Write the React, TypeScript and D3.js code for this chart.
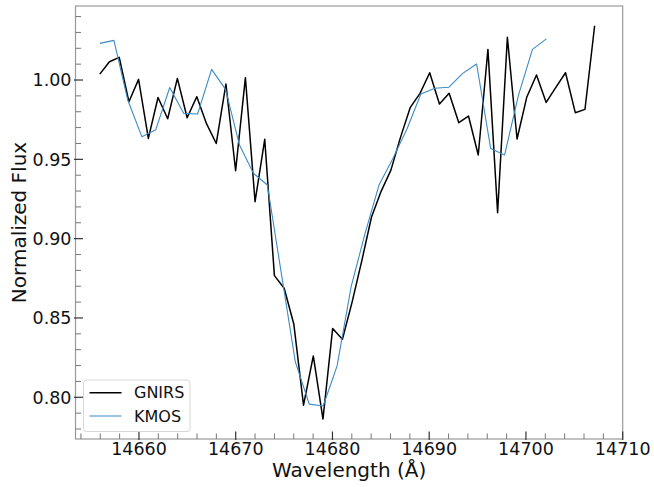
import React from "react";
import * as d3 from "d3";

// GNIRS spectrum (wavelength in Å, normalized flux)
const gnirsWave = [
  14655.95, 14656.95, 14657.96, 14658.96, 14659.96, 14660.97, 14661.97, 14662.97,
  14663.97, 14664.98, 14665.98, 14666.98, 14667.99, 14668.99, 14669.99, 14671.0,
  14672.0, 14673.0, 14674.0, 14675.01, 14676.01, 14677.01, 14678.02, 14679.02,
  14680.02, 14681.03, 14682.03, 14683.03, 14684.03, 14685.04, 14686.04, 14687.04,
  14688.05, 14689.05, 14690.05, 14691.06, 14692.06, 14693.06, 14694.06, 14695.07,
  14696.07, 14697.07, 14698.08, 14699.08, 14700.08, 14701.09, 14702.09, 14703.09,
  14704.09, 14705.1, 14706.1, 14707.1,
];
const gnirsFlux = [
  1.0037, 1.0115, 1.0143, 0.9863, 1.0004, 0.9632, 0.989, 0.9756,
  1.001, 0.9762, 0.9895, 0.9725, 0.96, 0.9975, 0.9428, 1.0015,
  0.9233, 0.9626, 0.8767, 0.8687, 0.846, 0.795, 0.8261, 0.7863,
  0.8434, 0.8366, 0.86, 0.886, 0.9135, 0.93, 0.9432, 0.964,
  0.9828, 0.9916, 1.0046, 0.9849, 0.9916, 0.9731, 0.9773, 0.9527,
  1.0193, 0.9163, 1.0269, 0.9628, 0.9891, 1.0032, 0.9859, 0.9954,
  1.0046, 0.9794, 0.9815, 1.0342,
];

// KMOS spectrum
const kmosWave = [
  14655.97, 14657.41, 14658.85, 14660.3, 14661.74, 14663.18, 14664.62, 14666.06,
  14667.51, 14668.95, 14670.39, 14671.83, 14673.27, 14674.72, 14676.16, 14677.6,
  14679.04, 14680.48, 14681.93, 14683.37, 14684.81, 14686.25, 14687.69, 14689.14,
  14690.58, 14692.02, 14693.46, 14694.9, 14696.35, 14697.79, 14699.23, 14700.67,
  14702.11,
];
const kmosFlux = [
  1.0231, 1.025, 0.9872, 0.9643, 0.9687, 0.9953, 0.979, 0.9786,
  1.0067, 0.9941, 0.959, 0.9412, 0.9338, 0.878, 0.8224, 0.7957,
  0.7945, 0.8198, 0.8697, 0.9033, 0.9338, 0.9506, 0.969, 0.9912,
  0.9948, 0.9954, 1.0042, 1.0101, 0.9569, 0.9527, 0.9905, 1.0193,
  1.0259,
];

const xMajorTicks = [14660, 14670, 14680, 14690, 14700, 14710];
const yMajorTicks = [0.8, 0.85, 0.9, 0.95, 1.0];

const seriesNames = ["GNIRS", "KMOS"];
const seriesColors = ["#000000", "#3b8bc4"];

const W = 654;
const H = 487;
const FONT = "DejaVu Sans, sans-serif";

export default function App() {
  const left = 75.5;
  const right = 622.7;
  const top = 6;
  const bottom = 439;

  const x = d3.scaleLinear().domain([14653.44, 14710]).range([left, right]);
  const y = d3
    .scaleLinear()
    .domain([0.80 - (bottom - 397.3) / 1586, 1.0 + (80 - top) / 1586])
    .range([bottom, top]);

  const xMinor = d3.range(14654, 14710.01, 2).filter((v) => !xMajorTicks.includes(v));
  const yMinor = d3
    .range(78, 105, 1)
    .map((v) => v / 100)
    .filter((v) => y(v) >= top && y(v) <= bottom)
    .filter((v) => !yMajorTicks.some((m) => Math.abs(m - v) < 1e-6));

  const line = d3
    .line<[number, number]>()
    .x((d) => x(d[0]))
    .y((d) => y(d[1]));

  const gnirs = gnirsWave.map((w, i) => [w, gnirsFlux[i]] as [number, number]);
  const kmos = kmosWave.map((w, i) => [w, kmosFlux[i]] as [number, number]);

  return (
    <svg
      width={W}
      height={H}
      style={{ position: "absolute", left: 0, top: 0, background: "#fff" }}
      fontFamily={FONT}
    >
      <rect x={0} y={0} width={W} height={H} fill="#fff" />
      <defs>
        <clipPath id="plotClip">
          <rect x={left} y={top} width={right - left} height={bottom - top} />
        </clipPath>
      </defs>

      <g clipPath="url(#plotClip)">
        <path d={line(gnirs) || ""} fill="none" stroke={seriesColors[0]} strokeWidth={1.5} strokeLinejoin="round" />
        <path d={line(kmos) || ""} fill="none" stroke={seriesColors[1]} strokeWidth={1.1} strokeLinejoin="round" />
      </g>

      {/* frame */}
      <rect x={left} y={top} width={right - left} height={bottom - top} fill="none" stroke="#9a9a9a" strokeWidth={1.2} />

      {/* x ticks */}
      {xMinor.map((v) => (
        <line key={"xm" + v} x1={x(v)} x2={x(v)} y1={bottom} y2={bottom - 5.5} stroke="#777" strokeWidth={1} />
      ))}
      {xMajorTicks.map((v) => (
        <g key={"xM" + v}>
          <line x1={x(v)} x2={x(v)} y1={bottom + 1} y2={bottom - 7.5} stroke="#333" strokeWidth={1.2} />
          <text x={x(v)} y={455} textAnchor="middle" fontSize={17.5} fill="#111">
            {v}
          </text>
        </g>
      ))}

      {/* y ticks */}
      {yMinor.map((v) => (
        <line key={"ym" + v} x1={left} x2={left + 5.5} y1={y(v)} y2={y(v)} stroke="#777" strokeWidth={1} />
      ))}
      {yMajorTicks.map((v) => (
        <g key={"yM" + v}>
          <line x1={left - 1.5} x2={left + 7.5} y1={y(v)} y2={y(v)} stroke="#333" strokeWidth={1.2} />
          <text x={71.5} y={y(v)} dy="0.36em" textAnchor="end" fontSize={17.5} fill="#111">
            {v.toFixed(2)}
          </text>
        </g>
      ))}

      {/* axis labels */}
      <text x={(left + right) / 2} y={476.5} textAnchor="middle" fontSize={20} fill="#111">
        Wavelength (Å)
      </text>
      <text transform={`translate(26, ${(top + bottom) / 2}) rotate(-90)`} textAnchor="middle" fontSize={20} fill="#111">
        Normalized Flux
      </text>

      {/* legend */}
      <g>
        <rect x={83.5} y={380} width={106.5} height={51.5} rx={3} fill="#fff" fillOpacity={0.8} stroke="#d6d6d6" strokeWidth={1} />
        {seriesNames.map((name, i) => {
          const cy = 392.7 + i * 23.3;
          return (
            <g key={name}>
              <line x1={89.5} x2={121.5} y1={cy} y2={cy} stroke={seriesColors[i]} strokeWidth={i === 0 ? 1.5 : 1.1} />
              <text x={134} y={cy} dy="0.36em" fontSize={16} fill="#111">
                {name}
              </text>
            </g>
          );
        })}
      </g>
    </svg>
  );
}
